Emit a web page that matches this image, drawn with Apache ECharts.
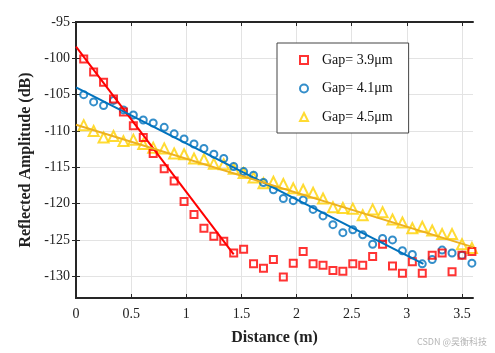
<!DOCTYPE html>
<html>
<head>
<meta charset="utf-8">
<script src="https://cdn.jsdelivr.net/npm/echarts@6/dist/echarts.min.js"></script>
<style>
html,body{margin:0;padding:0;background:#fff;}
#chart{width:495px;height:353px;}
</style>
</head>
<body>
<div id="chart"></div>
<script>
// 测量位置 (m)
var distance = [0.07, 0.16, 0.25, 0.34, 0.43, 0.52, 0.61, 0.70, 0.80, 0.89,
	0.98, 1.07, 1.16, 1.25, 1.34, 1.43, 1.52, 1.61, 1.70, 1.79,
	1.88, 1.97, 2.06, 2.15, 2.24, 2.33, 2.42, 2.51, 2.60, 2.69,
	2.78, 2.87, 2.96, 3.05, 3.14, 3.23, 3.32, 3.41, 3.50, 3.59];
// Gap = 3.9um
var gap39 = [-100.1, -101.9, -103.3, -105.6, -107.4, -109.3, -110.9, -113.1, -115.2, -116.9,
	-119.7, -121.5, -123.4, -124.5, -125.2, -126.8, -126.3, -128.3, -128.9, -127.7,
	-130.1, -128.2, -126.6, -128.3, -128.5, -129.2, -129.3, -128.3, -128.5, -127.3,
	-125.6, -128.6, -129.6, -128.0, -129.6, -127.1, -126.8, -129.4, -127.1, -126.6];
// Gap = 4.1um
var gap41 = [-105.0, -106.0, -106.5, -105.8, -107.1, -107.8, -108.5, -108.9, -109.5, -110.4,
	-111.1, -111.8, -112.4, -113.2, -113.8, -114.9, -115.6, -116.1, -117.1, -118.1,
	-119.3, -119.6, -119.5, -120.8, -121.7, -122.9, -124.0, -123.6, -124.3, -125.6,
	-124.8, -125.0, -126.5, -127.0, -128.3, -127.7, -126.4, -126.8, -127.1, -128.2];
// Gap = 4.5um
var gap45 = [-109.2, -110.0, -110.9, -110.7, -111.4, -111.2, -111.8, -112.3, -112.4, -113.1,
	-113.2, -113.8, -113.9, -114.5, -114.6, -115.2, -115.8, -116.4, -117.2, -117.0,
	-117.3, -117.9, -118.1, -118.5, -119.3, -120.5, -120.6, -120.7, -121.6, -120.8,
	-121.2, -122.2, -122.6, -123.4, -123.2, -123.7, -124.2, -124.2, -125.6, -126.1];
// 拟合直线端点 [x, y]
var fit39 = [[0, -98.4], [1.43, -127.0]];
var fit41 = [[0, -104.0], [3.15, -128.3]];
var fit45 = [[0, -109.15], [3.6, -126.0]];

var seriesNames = ['Gap= 3.9μm', 'Gap= 4.1μm', 'Gap= 4.5μm'];
var xTicks = [0, 0.5, 1, 1.5, 2, 2.5, 3, 3.5];
var yTicks = [-130, -125, -120, -115, -110, -105, -100, -95];

var serif = "'Liberation Serif', 'Times New Roman', serif";

function toPoints(xs, ys) {
	var arr = [];
	for (var i = 0; i < xs.length; i++) {
		arr.push([xs[i], ys[i]]);
	}
	return arr;
}

var myChart = echarts.init(document.getElementById('chart'));

var axisLineStyle = { color: '#262626', width: 2 };
var option = {
	animation: false,
	backgroundColor: '#fff',
	grid: { left: 76, top: 22, width: 397, height: 276 },
	legend: {
		data: seriesNames,
		orient: 'vertical',
		left: 277,
		top: 43,
		padding: [10, 16, 9, 22],
		itemWidth: 8,
		itemHeight: 8,
		itemGap: 14.5,
		backgroundColor: '#fff',
		borderColor: '#444',
		borderWidth: 1,
		textStyle: { fontFamily: serif, fontSize: 14, color: '#111', padding: [0, 0, 0, 9] }
	},
	xAxis: [{
		type: 'value', min: 0, max: 3.6, position: 'bottom',
		name: 'Distance (m)', nameLocation: 'middle', nameGap: 32,
		nameTextStyle: { fontFamily: serif, fontSize: 16, fontWeight: 'bold', color: '#222' },
		axisLine: { show: true, lineStyle: axisLineStyle },
		axisTick: { show: true, inside: true, length: 4, customValues: xTicks, lineStyle: { color: '#262626' } },
		axisLabel: { customValues: xTicks, margin: 9, fontFamily: serif, fontSize: 14, color: '#222' },
		splitLine: { show: true, lineStyle: { color: '#e3e3e3', width: 1 } }
	}, {
		type: 'value', min: 0, max: 3.6, position: 'top',
		axisLine: { show: true, lineStyle: axisLineStyle },
		axisTick: { show: true, inside: true, length: 4, customValues: xTicks, lineStyle: { color: '#262626' } },
		axisLabel: { show: false },
		splitLine: { show: false }
	}],
	yAxis: [{
		type: 'value', min: -133, max: -95, position: 'left',
		name: 'Reflected Amplitude (dB)', nameLocation: 'middle', nameGap: 36,
		nameTextStyle: { fontFamily: serif, fontSize: 16, fontWeight: 'bold', color: '#222' },
		axisLine: { show: true, lineStyle: axisLineStyle },
		axisTick: { show: true, inside: true, length: 4, customValues: yTicks, lineStyle: { color: '#262626' } },
		axisLabel: { customValues: yTicks, margin: 6, fontFamily: serif, fontSize: 14, color: '#222' },
		splitLine: { show: true, lineStyle: { color: '#e3e3e3', width: 1 } }
	}, {
		type: 'value', min: -133, max: -95, position: 'right',
		axisLine: { show: true, lineStyle: axisLineStyle },
		axisTick: { show: true, inside: true, length: 4, customValues: yTicks, lineStyle: { color: '#262626' } },
		axisLabel: { show: false },
		splitLine: { show: false }
	}],
	series: [
		{
			name: seriesNames[0], type: 'scatter', symbol: 'rect', symbolSize: 7,
			itemStyle: { color: 'rgba(0,0,0,0)', borderColor: '#ff0000', borderWidth: 2 },
			data: toPoints(distance, gap39), z: 4
		},
		{
			name: seriesNames[1], type: 'scatter', symbol: 'circle', symbolSize: 7,
			itemStyle: { color: 'rgba(0,0,0,0)', borderColor: '#0072bd', borderWidth: 2 },
			data: toPoints(distance, gap41), z: 3
		},
		{
			name: seriesNames[2], type: 'scatter', symbol: 'triangle', symbolSize: 10,
			itemStyle: { color: 'rgba(0,0,0,0)', borderColor: '#ffd200', borderWidth: 2 },
			data: toPoints(distance, gap45), z: 2
		},
		{
			type: 'line', data: fit39, symbol: 'none', z: 5,
			lineStyle: { color: '#ff0000', width: 2 }
		},
		{
			type: 'line', data: fit41, symbol: 'none', z: 5,
			lineStyle: { color: '#0072bd', width: 2 }
		},
		{
			type: 'line', data: fit45, symbol: 'none', z: 5,
			lineStyle: { color: '#edb120', width: 2 }
		}
	],
	graphic: [{
		type: 'text', right: 8, bottom: 7,
		style: { text: 'CSDN @昊衡科技', fill: '#b5b5b5', font: "9px 'Noto Sans CJK SC', sans-serif" }
	}]
};
myChart.setOption(option);
</script>
</body>
</html>
